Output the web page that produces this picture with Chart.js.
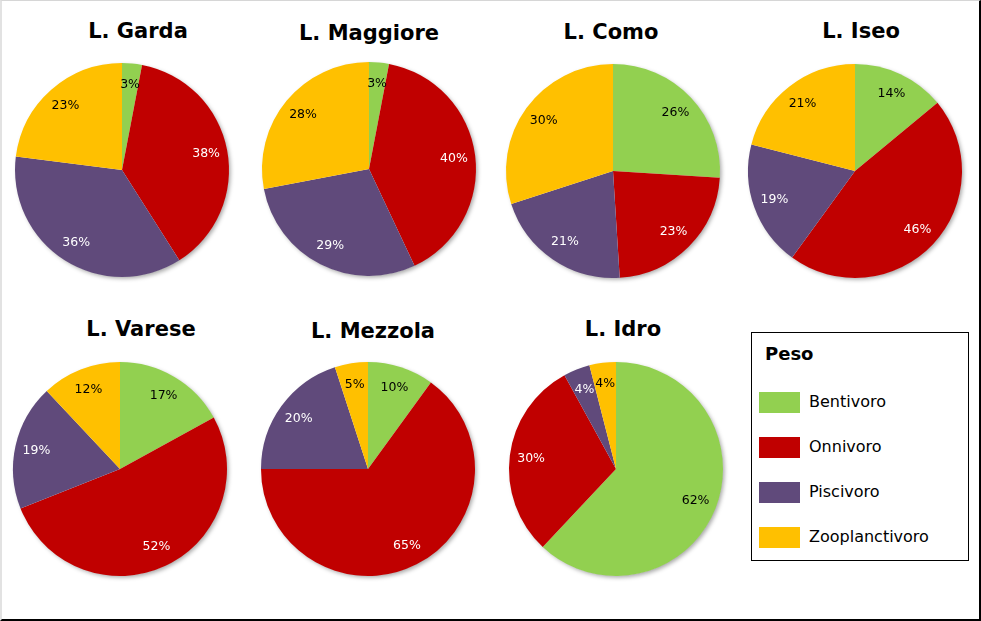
<!DOCTYPE html>
<html>
<head>
<meta charset="utf-8">
<script src="https://cdn.jsdelivr.net/npm/chart.js@4"></script>
<style>
  html, body { margin: 0; padding: 0; background: #fff; }
  #frame {
    position: relative; width: 981px; height: 621px; box-sizing: border-box;
    border-top: 1px solid #d6d6d6; border-left: 2px solid #e2e2e2;
    border-right: 2px solid #000; border-bottom: 2px solid #000;
    font-family: "DejaVu Sans", Verdana, sans-serif; overflow: hidden;
  }
  .pie { position: absolute; width: 240px; height: 240px; }
  .title {
    position: absolute; width: 240px; text-align: center;
    font-weight: bold; font-size: 21px; line-height: 24px; color: #000;
  }
  #legend {
    position: absolute; left: 749px; top: 331px; width: 216px; height: 227px;
    border: 1px solid #000; background: #fff;
  }
  #legend .head { position: absolute; left: 13px; top: 10px; font-weight: bold; font-size: 18px; }
  #legend .row { position: absolute; left: 7px; font-size: 16px; line-height: 22px; }
  #legend .sw { display: inline-block; width: 41px; height: 21px; vertical-align: middle; margin-right: 9px; }
</style>
</head>
<body>
<div id="frame"></div>
<script>
// Dati: percentuale in peso per gruppo trofico
const categories = ["Bentivoro", "Onnivoro", "Piscivoro", "Zooplanctivoro"];
const colors = ["#92D050", "#C00000", "#604A7B", "#FFC000"];
const labelColors = ["#000", "#fff", "#fff", "#000"];

const lakes = ["L. Garda", "L. Maggiore", "L. Como", "L. Iseo", "L. Varese", "L. Mezzola", "L. Idro"];
const garda = [3, 38, 36, 23];
const maggiore = [3, 40, 29, 28];
const como = [26, 23, 21, 30];
const iseo = [14, 46, 19, 21];
const varese = [17, 52, 19, 12];
const mezzola = [10, 65, 20, 5];
const idro = [62, 30, 4, 4];
const values = [garda, maggiore, como, iseo, varese, mezzola, idro];

// posizione (centro torta, centro titolo) in pixel
const centers = [[122, 170], [369, 169], [613, 171], [855, 171], [120, 469], [368, 469], [616, 469]];
const titlePos = [[138, 31], [369, 33], [611, 32], [861, 31], [141, 329], [373, 331], [623, 329]];

const frame = document.getElementById("frame");

// ombra sotto la torta
const shadowPlugin = {
  id: "pieShadow",
  beforeDatasetsDraw(chart) {
    const arc = chart.getDatasetMeta(0).data[0];
    if (!arc) return;
    const ctx = chart.ctx;
    ctx.save();
    ctx.shadowColor = "rgba(0,0,0,0.35)";
    ctx.shadowBlur = 4;
    ctx.shadowOffsetX = 2;
    ctx.shadowOffsetY = 2;
    ctx.beginPath();
    ctx.arc(arc.x, arc.y, arc.outerRadius - 0.5, 0, Math.PI * 2);
    ctx.fillStyle = "#fff";
    ctx.fill();
    ctx.restore();
  }
};

// etichette percentuali dentro le fette
const labelPlugin = {
  id: "pctLabels",
  afterDatasetsDraw(chart) {
    const ctx = chart.ctx;
    const data = chart.data.datasets[0].data;
    chart.getDatasetMeta(0).data.forEach((arc, i) => {
      const p = arc.getProps(["x", "y", "startAngle", "endAngle", "outerRadius"], true);
      const mid = (p.startAngle + p.endAngle) / 2;
      const r = p.outerRadius * 0.8;
      ctx.save();
      ctx.font = "12.5px 'DejaVu Sans', Verdana, sans-serif";
      ctx.fillStyle = labelColors[i];
      ctx.textAlign = "center";
      ctx.textBaseline = "middle";
      ctx.fillText(data[i] + "%", p.x + Math.cos(mid) * r, p.y + Math.sin(mid) * r);
      ctx.restore();
    });
  }
};

lakes.forEach((name, k) => {
  const [cx, cy] = centers[k];
  const box = document.createElement("div");
  box.className = "pie";
  box.style.left = (cx - 120 - 2) + "px";
  box.style.top = (cy - 120 - 1) + "px";
  const canvas = document.createElement("canvas");
  box.appendChild(canvas);
  frame.appendChild(box);

  const t = document.createElement("div");
  t.className = "title";
  t.textContent = name;
  t.style.left = (titlePos[k][0] - 120 - 2) + "px";
  t.style.top = (titlePos[k][1] - 12 - 1) + "px";
  frame.appendChild(t);

  new Chart(canvas.getContext("2d"), {
    type: "pie",
    data: {
      labels: categories,
      datasets: [{
        data: values[k],
        backgroundColor: colors,
        borderWidth: 0
      }]
    },
    options: {
      responsive: true,
      maintainAspectRatio: false,
      animation: false,
      layout: { padding: 13 },
      plugins: { legend: { display: false }, tooltip: { enabled: false } }
    },
    plugins: [shadowPlugin, labelPlugin]
  });
});

// legenda
const legend = document.createElement("div");
legend.id = "legend";
legend.innerHTML = '<div class="head">Peso</div>';
categories.forEach((c, i) => {
  const row = document.createElement("div");
  row.className = "row";
  row.style.top = (58 + i * 45) + "px";
  row.innerHTML = '<span class="sw" style="background:' + colors[i] + '"></span>' + c;
  legend.appendChild(row);
});
frame.appendChild(legend);
</script>
</body>
</html>
